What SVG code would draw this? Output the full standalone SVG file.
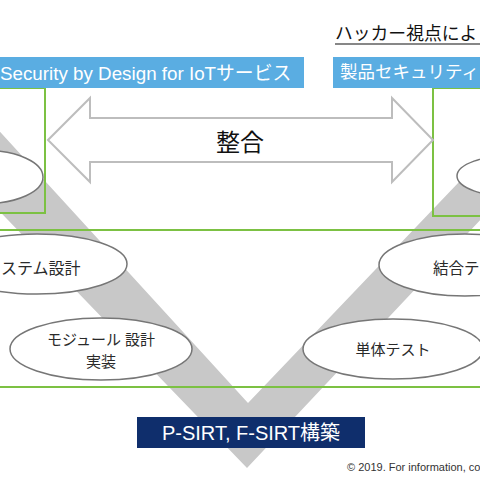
<svg xmlns="http://www.w3.org/2000/svg" width="480" height="480" viewBox="0 0 480 480">
<style>
text{font-family:"Liberation Sans","Noto Sans CJK JP",sans-serif}
.ell{fill:#ffffff;stroke:#767676;stroke-width:1.5}
.lbl{font-size:15px;fill:#2a2a2a;text-anchor:middle}
.green{fill:none;stroke:#7cc143;stroke-width:2}
.blue{fill:#5aade2}
.wt{fill:#ffffff}
</style>
<rect width="480" height="480" fill="#ffffff"/>
<g id="v-band">
<polygon points="247,468 -20,191 -20,110 248,403 500,139 500,199" fill="#c8c8c8"/>
</g>
<g id="frames">
<rect id="left-frame" class="green" x="-5" y="88" width="50" height="125"/>
<rect id="right-frame" class="green" x="433" y="88" width="52" height="128"/>
<rect id="middle-band" class="green" x="-5" y="230" width="490" height="157"/>
</g>
<g id="connectors">
<path id="align-arrow" d="M48,140 L90,98 L90,118 L392,118 L392,98 L433,140 L392,182 L392,162 L90,162 L90,182 Z" fill="#ffffff" stroke="#bdbdbd" stroke-width="2"/>
<text x="240" y="151" font-size="24" fill="#111" text-anchor="middle">整合</text>
</g>
<g id="node-top-left"><ellipse class="ell" cx="-15" cy="177" rx="58" ry="26.5"/></g>
<g id="node-top-right"><ellipse class="ell" cx="515" cy="176" rx="58" ry="21"/></g>
<g id="node-system-design">
<ellipse class="ell" cx="37" cy="264" rx="90" ry="30"/>
<text x="1" y="274" font-size="16" fill="#2a2a2a">ステム設計</text>
</g>
<g id="node-module-design">
<ellipse class="ell" cx="101" cy="349" rx="91" ry="31"/>
<text class="lbl" x="101" y="345">モジュール 設計</text>
<text class="lbl" x="101" y="367">実装</text>
</g>
<g id="node-integration-test">
<ellipse class="ell" cx="465" cy="265" rx="86" ry="31"/>
<text x="433" y="274" font-size="15.5" fill="#2a2a2a">結合テ</text>
</g>
<g id="node-unit-test">
<ellipse class="ell" cx="393" cy="349" rx="90" ry="30"/>
<text class="lbl" x="393" y="355">単体テスト</text>
</g>
<g id="node-sbd">
<rect class="blue" x="-5" y="57" width="309" height="31"/>
<text class="wt" x="0" y="80" font-size="18.8">Security by Design for IoTサービス</text>
</g>
<g id="node-product-security">
<rect class="blue" x="333" y="57" width="152" height="31"/>
<text class="wt" x="340" y="78" font-size="17.5">製品セキュリティ</text>
</g>
<g id="hacker-title">
<text x="335" y="40" font-size="17.8" fill="#111">ハッカー視点によ</text>
<line x1="335" y1="44" x2="482" y2="44" stroke="#111" stroke-width="1.2"/>
</g>
<g id="node-psirt">
<rect x="137" y="417" width="228" height="31" fill="#0f2e6c"/>
<text class="wt" x="251" y="440" font-size="20" text-anchor="middle">P-SIRT, F-SIRT構築</text>
</g>
<text x="347" y="471" font-size="11" fill="#333">© 2019. For information, co</text>
</svg>
